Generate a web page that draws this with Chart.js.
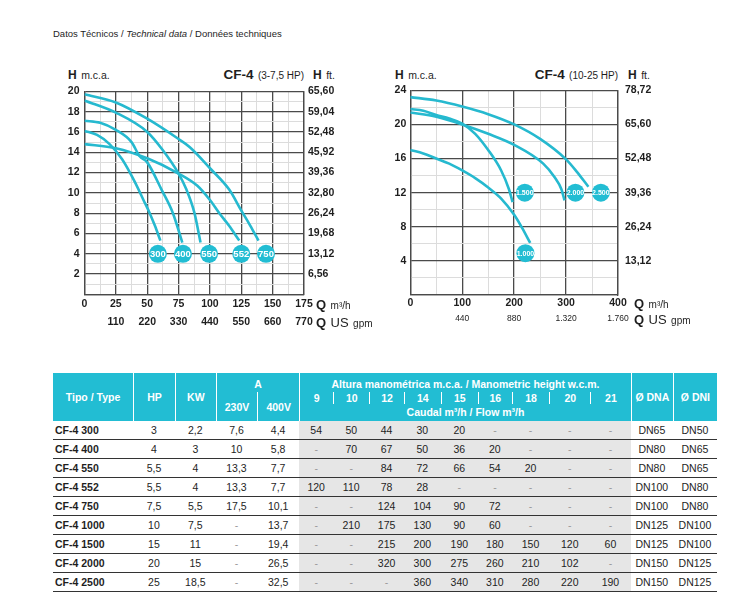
<!DOCTYPE html>
<html>
<head>
<meta charset="utf-8">
<script src="https://cdn.jsdelivr.net/npm/chart.js@4.4.1/dist/chart.umd.min.js"></script>
<style>
  body { margin: 0; background: #fff; font-family: "Liberation Sans", Arial, sans-serif; color: #1e1e1e; }
  #page { position: relative; width: 746px; height: 615px; overflow: hidden; }
  .abs { position: absolute; white-space: nowrap; line-height: 16px; }
  .big { font-weight: bold; }
  canvas { position: absolute; }
  #tbl { position: absolute; left: 53px; top: 373px; border-collapse: separate; border-spacing: 0; table-layout: fixed; width: 664px; font-size: 10.5px; }
  #tbl th { background: #22bdd3; color: #fff; font-weight: bold; padding: 0; text-align: center; vertical-align: middle; box-sizing: border-box; }
  #tbl th.sep { border-left: 1.5px solid #fff; }
  #tbl td { height: 19px; padding: 0; text-align: center; border-bottom: 1px solid #333; box-sizing: border-box; }
  #tbl td.name { text-align: left; font-weight: bold; padding-left: 2px; }
  #tbl td.g { background: #e6e6e6; }
  #tbl td.dash { color: #9a9a9a; }
</style>
</head>
<body>
<div id="page">
  <div class="abs" style="left:53px;top:26px;font-size:9.5px;">Datos Técnicos / <i>Technical data</i> / Données techniques</div>

  <div class="abs" style="left:68px;top:66px;"><span class="big" style="font-size:12px">H</span> <span style="font-size:10.5px">m.c.a.</span></div>
  <div class="abs" style="right:442px;top:66px;"><span class="big" style="font-size:13.5px">CF-4</span> <span style="font-size:10px">(3-7,5 HP)</span></div>
  <div class="abs" style="left:313px;top:66px;"><span class="big" style="font-size:12px">H</span> <span style="font-size:10.5px">ft.</span></div>

  <div class="abs" style="left:395px;top:66px;"><span class="big" style="font-size:12px">H</span> <span style="font-size:10.5px">m.c.a.</span></div>
  <div class="abs" style="right:128px;top:66px;"><span class="big" style="font-size:13.5px">CF-4</span> <span style="font-size:10px">(10-25 HP)</span></div>
  <div class="abs" style="left:628px;top:66px;"><span class="big" style="font-size:12px">H</span> <span style="font-size:10.5px">ft.</span></div>

  <canvas id="left" width="320" height="255" style="left:40px;top:80px;"></canvas>
  <canvas id="right" width="330" height="258" style="left:360px;top:77px;"></canvas>

  <div class="abs" style="left:316px;top:296px;"><span class="big" style="font-size:13px">Q</span> <span style="font-size:10px">m³/h</span></div>
  <div class="abs" style="left:316px;top:314px;"><span class="big" style="font-size:13px">Q</span> <span style="font-size:13px">US</span> <span style="font-size:10px">gpm</span></div>
  <div class="abs" style="left:634px;top:295px;"><span class="big" style="font-size:13px">Q</span> <span style="font-size:10px">m³/h</span></div>
  <div class="abs" style="left:634px;top:311px;"><span class="big" style="font-size:13px">Q</span> <span style="font-size:13px">US</span> <span style="font-size:10px">gpm</span></div>

  <table id="tbl"></table>
</div>

<script>
// ---- left chart (3-7,5 HP) ----
const leftQ = [0, 25, 50, 75, 100, 125, 150, 175];
const leftGpm = ['', '110', '220', '330', '440', '550', '660', '770'];
const leftH = [2, 4, 6, 8, 10, 12, 14, 16, 18, 20];
const leftFt = ['6,56', '13,12', '19,68', '26,24', '32,80', '39,36', '45,92', '52,48', '59,04', '65,60'];

const q300 = [0, 10, 20, 30, 40, 47, 52, 56, 60.5];
const h300 = [16.1, 15.7, 14.8, 13.3, 11.1, 9.3, 8.0, 6.8, 5.3];
const q400 = [0, 12.5, 25, 37.5, 44, 50, 61.5, 70.5, 78];
const h400 = [17.1, 16.9, 16.2, 15.0, 13.6, 13.0, 10.3, 8.0, 5.1];
const q550 = [0, 25, 50, 62.5, 75, 81, 87.7, 92.5];
const h550 = [19.1, 17.9, 16.0, 14.2, 11.9, 10.4, 8.0, 5.1];
const q552 = [0, 25, 50, 75, 90, 100, 107.5, 115, 123.4];
const h552 = [14.8, 14.4, 13.4, 11.9, 10.7, 9.3, 8.0, 6.8, 5.3];
const q750 = [0, 25, 50, 75, 84, 101, 115.5, 124.8, 132, 138.7];
const h750 = [19.7, 18.9, 17.3, 15.3, 14.5, 12.3, 10.3, 8.3, 6.8, 5.3];

const leftBadgeQ = [58.5, 78.5, 99.3, 125, 144.7];
const leftBadgeH = [4, 4, 4, 4, 4];
const leftBadgeText = ['300', '400', '550', '552', '750'];

// ---- right chart (10-25 HP) ----
const rightQ = [0, 100, 200, 300, 400];
const rightGpm = ['', '440', '880', '1.320', '1.760'];
const rightH = [4, 8, 12, 16, 20, 24];
const rightFt = ['13,12', '26,24', '39,36', '52,48', '65,60', '78,72'];

const q1000 = [0, 25, 50, 75, 100, 125, 150, 175, 200, 215, 231];
const h1000 = [17.0, 16.6, 16.0, 15.4, 14.6, 13.7, 12.6, 11.3, 9.4, 7.9, 6.1];
const q1500 = [0, 25, 50, 75, 100, 125, 150, 175, 190, 197];
const h1500 = [21.8, 21.6, 21.1, 20.7, 20.1, 18.9, 17.0, 14.6, 12.4, 10.9];
const q2000 = [0, 50, 100, 150, 200, 256, 278, 291, 297];
const h2000 = [21.4, 20.9, 20.0, 18.9, 17.6, 15.4, 13.8, 12.4, 11.1];
const q2500 = [0, 50, 100, 150, 200, 250, 300, 320, 343];
const h2500 = [23.2, 22.8, 22.1, 21.2, 20.0, 18.3, 15.9, 14.5, 12.7];

const rightBadgeQ = [221.7, 220.5, 318, 367];
const rightBadgeH = [4.9, 12, 12, 12];
const rightBadgeText = ['1.000', '1.500', '2.000', '2.500'];

// ---- table ----
const models = ['CF-4 300', 'CF-4 400', 'CF-4 550', 'CF-4 552', 'CF-4 750', 'CF-4 1000', 'CF-4 1500', 'CF-4 2000', 'CF-4 2500'];
const hpVals = ['3', '4', '5,5', '5,5', '7,5', '10', '15', '20', '25'];
const kwVals = ['2,2', '3', '4', '4', '5,5', '7,5', '11', '15', '18,5'];
const amp230 = ['7,6', '10', '13,3', '13,3', '17,5', '-', '-', '-', '-'];
const amp400 = ['4,4', '5,8', '7,7', '7,7', '10,1', '13,7', '19,4', '26,5', '32,5'];
const headCols = ['9', '10', '12', '14', '15', '16', '18', '20', '21'];
const flowRows = [
  ['54', '50', '44', '30', '20', '-', '-', '-', '-'],
  ['-', '70', '67', '50', '36', '20', '-', '-', '-'],
  ['-', '-', '84', '72', '66', '54', '20', '-', '-'],
  ['120', '110', '78', '28', '-', '-', '-', '-', '-'],
  ['-', '-', '124', '104', '90', '72', '-', '-', '-'],
  ['-', '210', '175', '130', '90', '60', '-', '-', '-'],
  ['-', '-', '215', '200', '190', '180', '150', '120', '60'],
  ['-', '-', '320', '300', '275', '260', '210', '102', '-'],
  ['-', '-', '-', '360', '340', '310', '280', '220', '190']
];
const dnaVals = ['DN65', 'DN80', 'DN80', 'DN100', 'DN100', 'DN125', 'DN125', 'DN150', 'DN150'];
const dniVals = ['DN50', 'DN65', 'DN65', 'DN80', 'DN80', 'DN100', 'DN100', 'DN125', 'DN125'];

const CURVE = '#26b9cf';
const BADGE = '#22bdd3';
const MAJOR = '#4a4a4a';
const MINOR = '#dcdcdc';
const FONT = 'Liberation Sans';

function curve(qs, hs) {
  return {
    type: 'line',
    data: qs.map((q, i) => ({ x: q, y: hs[i] })),
    borderColor: CURVE,
    borderWidth: 2.6,
    pointRadius: 0,
    cubicInterpolationMode: 'monotone',
    fill: false
  };
}

function badges(qs, hs, texts, font) {
  return {
    type: 'scatter',
    data: qs.map((q, i) => ({ x: q, y: hs[i] })),
    pointRadius: 9,
    pointHoverRadius: 9,
    backgroundColor: BADGE,
    borderWidth: 0,
    badgeText: texts,
    badgeFont: font
  };
}

// writes the model number inside each circle
const badgeLabels = {
  id: 'badgeLabels',
  afterDatasetsDraw(chart) {
    const ctx = chart.ctx;
    chart.data.datasets.forEach((ds, i) => {
      if (!ds.badgeText) return;
      chart.getDatasetMeta(i).data.forEach((pt, j) => {
        ctx.save();
        ctx.fillStyle = '#fff';
        ctx.font = ds.badgeFont;
        ctx.textAlign = 'center';
        ctx.textBaseline = 'middle';
        ctx.fillText(ds.badgeText[j], pt.x, pt.y + 0.5);
        ctx.restore();
      });
    });
  }
};

function makeChart(id, cfg) {
  const tickFont = { family: FONT, size: 10.5, weight: 'bold' };
  new Chart(document.getElementById(id), {
    type: 'line',
    data: { datasets: cfg.datasets },
    plugins: [badgeLabels],
    options: {
      responsive: false,
      animation: false,
      layout: { padding: { top: cfg.padTop, left: 0, right: 0, bottom: 0 } },
      plugins: { legend: { display: false }, tooltip: { enabled: false } },
      scales: {
        x: {
          type: 'linear', position: 'bottom', weight: 0,
          min: 0, max: cfg.xMax,
          afterFit: s => { s.height = 17; },
          grid: {
            drawTicks: false,
            color: c => (c.tick.value % cfg.xMajor === 0 ? MAJOR : MINOR),
            lineWidth: c => (c.tick.value % cfg.xMajor === 0 ? 1.3 : 1)
          },
          border: { color: MAJOR, width: 1.3 },
          ticks: {
            stepSize: cfg.xMinor, autoSkip: false, maxRotation: 0,
            padding: cfg.xPad, color: '#1e1e1e', font: tickFont,
            callback: v => (cfg.qTicks.includes(v) ? String(v) : '')
          }
        },
        x2: {
          type: 'linear', position: 'bottom', weight: 1,
          min: 0, max: cfg.xMax,
          afterFit: s => { s.height = cfg.x2Height; },
          grid: { display: false, drawTicks: false },
          border: { display: false },
          ticks: {
            stepSize: cfg.xMajor, autoSkip: false, maxRotation: 0,
            padding: cfg.x2Pad, color: '#1e1e1e', font: cfg.gpmFont,
            callback: v => { const k = cfg.qTicks.indexOf(v); return k < 0 ? '' : cfg.gpmTicks[k]; }
          }
        },
        y: {
          position: 'left', min: 0, max: cfg.yMax,
          afterFit: s => { s.width = cfg.yWidth; },
          grid: {
            drawTicks: false,
            color: c => (c.tick.value % cfg.yMajor === 0 ? MAJOR : MINOR),
            lineWidth: c => (c.tick.value % cfg.yMajor === 0 ? 1.3 : 1)
          },
          border: { color: MAJOR, width: 1.3 },
          ticks: {
            stepSize: cfg.yMinor, autoSkip: false, padding: cfg.yPad,
            color: '#1e1e1e', font: tickFont,
            callback: v => (cfg.hTicks.includes(v) ? String(v) : '')
          }
        },
        y2: {
          position: 'right', min: 0, max: cfg.yMax,
          afterFit: s => { s.width = cfg.y2Width; },
          grid: { display: false, drawTicks: false },
          border: { color: MAJOR, width: 1.3 },
          ticks: {
            stepSize: cfg.yMajor, autoSkip: false, padding: cfg.y2Pad,
            color: '#1e1e1e', font: tickFont,
            callback: v => { const k = cfg.hTicks.indexOf(v); return k < 0 ? '' : cfg.ftTicks[k]; }
          }
        }
      }
    }
  });
}

makeChart('left', {
  datasets: [
    curve(q300, h300), curve(q400, h400), curve(q550, h550), curve(q552, h552), curve(q750, h750),
    badges(leftBadgeQ, leftBadgeH, leftBadgeText, 'bold 9.5px "Liberation Sans"')
  ],
  padTop: 9, xMax: 175, xMajor: 25, xMinor: 12.5, xPad: 3, x2Height: 23.6, x2Pad: 4,
  gpmFont: { family: FONT, size: 10.5, weight: 'bold' },
  yMax: 20, yMajor: 2, yMinor: 1, yWidth: 44.5, yPad: 5, y2Width: 56, y2Pad: 4,
  qTicks: leftQ, gpmTicks: leftGpm, hTicks: leftH, ftTicks: leftFt
});

makeChart('right', {
  datasets: [
    curve(q1000, h1000), curve(q1500, h1500), curve(q2000, h2000), curve(q2500, h2500),
    badges(rightBadgeQ, rightBadgeH, rightBadgeText, 'bold 7px "Liberation Sans"')
  ],
  padTop: 8, xMax: 400, xMajor: 100, xMinor: 50, xPad: 2, x2Height: 23, x2Pad: 2,
  gpmFont: { family: FONT, size: 8.5, weight: 'normal' },
  yMax: 24, yMajor: 4, yMinor: 2, yWidth: 50.3, yPad: 4, y2Width: 72, y2Pad: 7,
  qTicks: rightQ, gpmTicks: rightGpm, hTicks: rightH, ftTicks: rightFt
});

// ---- build the table ----
const colW = [80, 41.7, 41, 41.3, 42, 34, 36, 34.7, 36.7, 37.3, 33.7, 37.6, 40.7, 40.7, 42, 44];
let html = '<colgroup>' + colW.map(w => `<col style="width:${w}px">`).join('') + '</colgroup>';
html += '<tr style="height:19px">' +
  '<th rowspan="3">Tipo / Type</th>' +
  '<th rowspan="3" class="sep">HP</th>' +
  '<th rowspan="3" class="sep">KW</th>' +
  '<th colspan="2" class="sep" style="padding-top:3px">A</th>' +
  '<th colspan="9" class="sep" style="padding-top:3px">Altura manométrica m.c.a. / Manometric height w.c.m.</th>' +
  '<th rowspan="3" class="sep">Ø DNA</th>' +
  '<th rowspan="3" class="sep">Ø DNI</th></tr>';
html += '<tr style="height:12px">' +
  '<th rowspan="2" class="sep" style="padding-top:2px">230V</th><th rowspan="2" class="sep" style="padding-top:2px">400V</th>' +
  headCols.map(h => `<th class="sep">${h}</th>`).join('') + '</tr>';
html += '<tr style="height:16.5px"><th colspan="9" class="sep">Caudal m³/h / Flow m³/h</th></tr>';
models.forEach((m, i) => {
  const cell = (v, cls) => `<td class="${cls}${v === '-' ? ' dash' : ''}">${v}</td>`;
  html += '<tr>' +
    `<td class="name">${m}</td>` +
    cell(hpVals[i], '') + cell(kwVals[i], '') + cell(amp230[i], '') + cell(amp400[i], '') +
    flowRows[i].map(v => cell(v, 'g')).join('') +
    cell(dnaVals[i], '') + cell(dniVals[i], '') + '</tr>';
});
document.getElementById('tbl').innerHTML = html;
</script>
</body>
</html>
